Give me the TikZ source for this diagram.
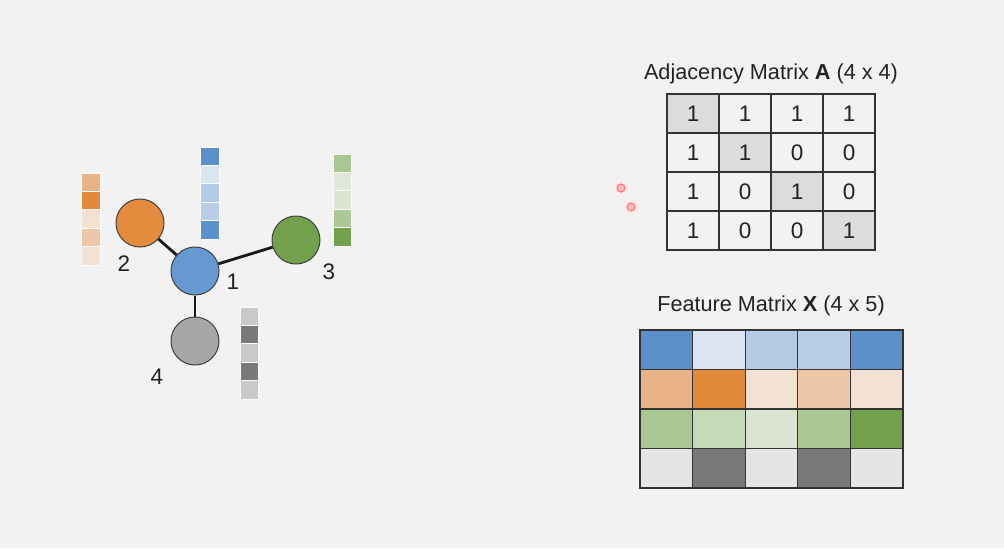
\documentclass[tikz,border=0pt]{standalone}
\usepackage{fontspec}
\setmainfont{Liberation Sans}
\definecolor{bg}{HTML}{F2F2F2}
\definecolor{ink}{HTML}{222222}
% node fills
\definecolor{nblue}{HTML}{6699D0}
\definecolor{norange}{HTML}{E58B3D}
\definecolor{ngreen}{HTML}{72A04B}
\definecolor{ngray}{HTML}{A6A6A6}
% feature colours
\definecolor{bA}{HTML}{5B8FCA}\definecolor{bB}{HTML}{DAE5F1}\definecolor{bC}{HTML}{B5CBE5}\definecolor{bD}{HTML}{B9CEE6}\definecolor{bE}{HTML}{5D91CC}
\definecolor{oA}{HTML}{E9B287}\definecolor{oB}{HTML}{E28A3C}\definecolor{oC}{HTML}{F3E1D1}\definecolor{oD}{HTML}{EEC7A8}\definecolor{oE}{HTML}{F3E2D3}
\definecolor{gA}{HTML}{A9C791}\definecolor{gB}{HTML}{C6DAB7}\definecolor{gC}{HTML}{DBE4D2}\definecolor{gD}{HTML}{ABC895}\definecolor{gE}{HTML}{73A04B}
\definecolor{kA}{HTML}{E4E4E4}\definecolor{kB}{HTML}{797979}
\definecolor{kL}{HTML}{C9C9C9}
\definecolor{gV}{HTML}{E1E6DB}
\definecolor{diag}{HTML}{DCDCDC}
\begin{document}
\begin{tikzpicture}[x=0.025cm,y=-0.025cm,
  vertex/.style={circle,draw=black!75,line width=0.7pt,minimum size=1.2cm,inner sep=0pt},
  edge/.style={line width=2pt,black!90},
  vcell/.style={rectangle,draw=white!70!bg,line width=0.5pt,minimum width=0.4625cm,minimum height=0.46cm,inner sep=0pt},
  acell/.style={rectangle,draw=black!80,line width=0.9pt,minimum width=1.3cm,minimum height=0.975cm,inner sep=0pt,text=ink,font=\fontsize{16}{16}\selectfont},
  xcell/.style={rectangle,draw=black!80,line width=0.9pt,minimum width=1.315cm,minimum height=0.9875cm,inner sep=0pt},
  title/.style={text=ink,font=\fontsize{15.4}{18}\selectfont},
  lbl/.style={text=ink,font=\fontsize{16}{16}\selectfont},
  pointer/.style={circle,draw=red!55,fill=red!25,line width=0.8pt,minimum size=0.2cm,inner sep=0pt}]
\fill[bg] (0,0) rectangle (1004,548);

% graph
\node[vertex,fill=nblue] (v1) at (195,271) {};
\node[vertex,fill=norange] (v2) at (140,223) {};
\node[vertex,fill=ngreen] (v3) at (296,240) {};
\node[vertex,fill=ngray] (v4) at (195,341) {};
\draw[edge] (v1) -- (v2);
\draw[edge] (v1) -- (v3);
\draw[edge] (v1) -- (v4);
\node[lbl] (l1) at (233,282) {1};
\node[lbl] (l2) at (124,264) {2};
\node[lbl] (l3) at (329,272) {3};
\node[lbl] (l4) at (157,377) {4};

% feature vectors next to the nodes
\foreach \col [count=\k from 0] in {bA,bB,bC,bD,bE}
  \node[vcell,fill=\col] (f1-\k) at (210,156.2+18.4*\k) {};
\foreach \col [count=\k from 0] in {oA,oB,oC,oD,oE}
  \node[vcell,fill=\col] (f2-\k) at (91,182.2+18.4*\k) {};
\foreach \col [count=\k from 0] in {gA,gV,gC,gD,gE}
  \node[vcell,fill=\col] (f3-\k) at (342.5,163.2+18.4*\k) {};
\foreach \col [count=\k from 0] in {kL,kB,kL,kB,kL}
  \node[vcell,fill=\col] (f4-\k) at (249.5,316.2+18.4*\k) {};

% mouse pointer marks
\fill[red!8] (621,188) circle (8);
\fill[red!8] (631,207) circle (8);
\node[pointer] (p1) at (621,188) {};
\node[pointer] (p2) at (631,207) {};

% adjacency matrix
\node[title] (atitle) at (771,74) {Adjacency Matrix \textbf{A} (4 x 4)};
\foreach \v [count=\k from 0] in {1,1,1,1, 1,1,0,0, 1,0,1,0, 1,0,0,1} {
  \pgfmathtruncatemacro\r{div(\k,4)}
  \pgfmathtruncatemacro\c{mod(\k,4)}
  \ifnum\r=\c \def\cellcol{diag}\else\def\cellcol{bg}\fi
  \node[acell,fill=\cellcol] (a-\r-\c) at (693+52*\c,113.5+39*\r) {\v};
}

% feature matrix
\node[title] (xtitle) at (771,306) {Feature Matrix \textbf{X} (4 x 5)};
\foreach \col [count=\k from 0] in {bA,bB,bC,bD,bE, oA,oB,oC,oD,oE, gA,gB,gC,gD,gE, kA,kB,kA,kB,kA} {
  \pgfmathtruncatemacro\r{div(\k,5)}
  \pgfmathtruncatemacro\c{mod(\k,5)}
  \node[xcell,fill=\col] (x-\r-\c) at (666.3+52.6*\c,349.75+39.5*\r) {};
}
\end{tikzpicture}
\end{document}
